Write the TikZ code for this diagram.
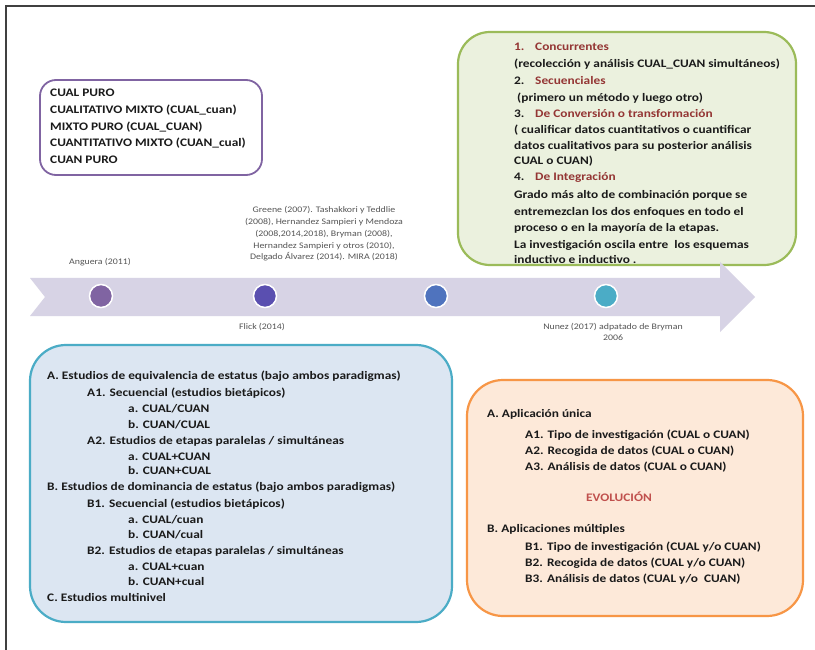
\documentclass[tikz,border=0pt]{standalone}
\usepackage{fontspec}
\setmainfont{Carlito}[FakeStretch=1.16]
\definecolor{pborder}{HTML}{8064A2}
\definecolor{gfill}{HTML}{EBF1DE}
\definecolor{gborder}{HTML}{9BBB59}
\definecolor{bfill}{HTML}{DCE6F2}
\definecolor{bborder}{HTML}{4BACC6}
\definecolor{ofill}{HTML}{FDE9D9}
\definecolor{oborder}{HTML}{F79646}
\definecolor{arrowc}{HTML}{D7D3E5}
\definecolor{dred}{HTML}{943634}
\definecolor{evo}{HTML}{C0504D}
\definecolor{c1}{HTML}{8064A2}
\definecolor{c2}{HTML}{5A4FB0}
\definecolor{c3}{HTML}{4F73BE}
\definecolor{c4}{HTML}{4BACC6}
\definecolor{txt}{HTML}{1A1A1A}
\definecolor{small}{HTML}{555555}
\begin{document}
\begin{tikzpicture}[x=1pt,y=-1pt,
  bt/.style={font=\bfseries\fontsize{11.5}{12}\selectfont, text=txt, anchor=base west, inner sep=0pt},
  sm/.style={font=\fontsize{8.5}{11.7}\selectfont, text=small, align=center, inner sep=0pt},
  dot/.style={circle, minimum size=23pt, inner sep=0pt, draw=white, line width=1.5pt},
  rbox/.style={rounded corners=#1, line width=2.2pt}]
\useasboundingbox (0,0) rectangle (815,650);
\fill[white] (0,0) rectangle (815,650);
% frame
\draw[black!75, line width=1.5pt] (6,650) -- (6,6) -- (815,6);

% purple box
\draw[rbox=16pt, draw=pborder, line width=1.8pt, fill=white] (40,80) rectangle (262,175);
\node[bt] (p1) at (50,97) {CUAL PURO};
\node[bt] (p2) at (50,114) {CUALITATIVO MIXTO (CUAL\_cuan)};
\node[bt] (p3) at (50,131) {MIXTO PURO (CUAL\_CUAN)};
\node[bt] (p4) at (50,147) {CUANTITATIVO MIXTO (CUAN\_cual)};
\node[bt] (p5) at (50,164) {CUAN PURO};

% green box
\draw[rbox=32pt, draw=gborder, fill=gfill] (458,32) rectangle (796,265);
\node[bt] (g1) at (514,51) {\color{dred}\makebox[21pt][l]{1.}Concurrentes};
\node[bt] (g2) at (514,68) {(recolección y análisis CUAL\_CUAN simultáneos)};
\node[bt] (g3) at (514,85) {\makebox[21pt][l]{2.}\color{dred}Secuenciales};
\node[bt] (g4) at (517,102) {(primero un método y luego otro)};
\node[bt] (g5) at (514,118) {\makebox[21pt][l]{3.}\color{dred}De Conversión o transformación};
\node[bt] (g6) at (514,134) {( cualificar datos cuantitativos o cuantificar};
\node[bt] (g7) at (514,150) {datos cualitativos para su posterior análisis};
\node[bt] (g8) at (514,165) {CUAL o CUAN)};
\node[bt] (g9) at (514,181) {\makebox[21pt][l]{4.}\color{dred}De Integración};
\node[bt] (g10) at (514,199) {Grado más alto de combinación porque se};
\node[bt] (g11) at (514,216) {entremezclan los dos enfoques en todo el};
\node[bt] (g12) at (514,232) {proceso o en la mayoría de la etapas.};
\node[bt] (g13) at (514,248) {La investigación oscila entre\ \ los esquemas};
\node[bt] (g14) at (514,263) {inductivo e inductivo .};

% timeline arrow
\fill[arrowc] (30,278) -- (720,278) -- (720,262) -- (755,297) -- (720,332) -- (720,316) -- (30,316) -- (45,297) -- cycle;
\node[dot, fill=c1] (d1) at (101,296) {};
\node[dot, fill=c2] (d2) at (265,296) {};
\node[dot, fill=c3] (d3) at (436,296) {};
\node[dot, fill=c4] (d4) at (606,296) {};

\node[sm] (t1) at (100,262) {Anguera (2011)};
\node[sm] (t2) at (324,234) {Greene (2007). Tashakkori y Teddlie\\(2008), Hernandez Sampieri y Mendoza\\(2008,2014,2018), Bryman (2008),\\Hernandez Sampieri y otros (2010),\\Delgado Álvarez (2014). MIRA (2018)};
\node[sm] (t3) at (262,327) {Flick (2014)};
\node[sm] (t4) at (613,332) {Nunez (2017) adpatado de Bryman\\2006};

% blue box
\draw[rbox=36pt, draw=bborder, fill=bfill] (30,345) rectangle (452,622);
\node[bt] (b1) at (47,379) {A. Estudios de equivalencia de estatus (bajo ambos paradigmas)};
\node[bt] (b2) at (87,396) {A1. Secuencial (estudios bietápicos)};
\node[bt] (b3) at (128,412) {a. CUAL/CUAN};
\node[bt] (b4) at (128,428) {b. CUAN/CUAL};
\node[bt] (b5) at (87,444) {A2. Estudios de etapas paralelas / simultáneas};
\node[bt] (b6) at (128,460) {a. CUAL+CUAN};
\node[bt] (b7) at (128,474) {b. CUAN+CUAL};
\node[bt] (b8) at (47,490) {B. Estudios de dominancia de estatus (bajo ambos paradigmas)};
\node[bt] (b9) at (87,507) {B1. Secuencial (estudios bietápicos)};
\node[bt] (b10) at (128,523) {a. CUAL/cuan};
\node[bt] (b11) at (128,538) {b. CUAN/cual};
\node[bt] (b12) at (87,554) {B2. Estudios de etapas paralelas / simultáneas};
\node[bt] (b13) at (128,570) {a. CUAL+cuan};
\node[bt] (b14) at (128,585) {b. CUAN+cual};
\node[bt] (b15) at (47,601) {C. Estudios multinivel};

% orange box
\draw[rbox=36pt, draw=oborder, fill=ofill] (467,380) rectangle (803,616);
\node[bt] (o1) at (487,417) {A. Aplicación única};
\node[bt] (o2) at (525,438) {A1. Tipo de investigación (CUAL o CUAN)};
\node[bt] (o3) at (525,454) {A2. Recogida de datos (CUAL o CUAN)};
\node[bt] (o4) at (525,470) {A3. Análisis de datos (CUAL o CUAN)};
\node[bt, anchor=base, text=evo] (o5) at (619,501) {EVOLUCIÓN};
\node[bt] (o6) at (487,532) {B. Aplicaciones múltiples};
\node[bt] (o7) at (525,550) {B1. Tipo de investigación (CUAL y/o CUAN)};
\node[bt] (o8) at (525,566) {B2. Recogida de datos (CUAL y/o CUAN)};
\node[bt] (o9) at (525,582) {B3. Análisis de datos (CUAL y/o\ \ CUAN)};
\end{tikzpicture}
\end{document}
